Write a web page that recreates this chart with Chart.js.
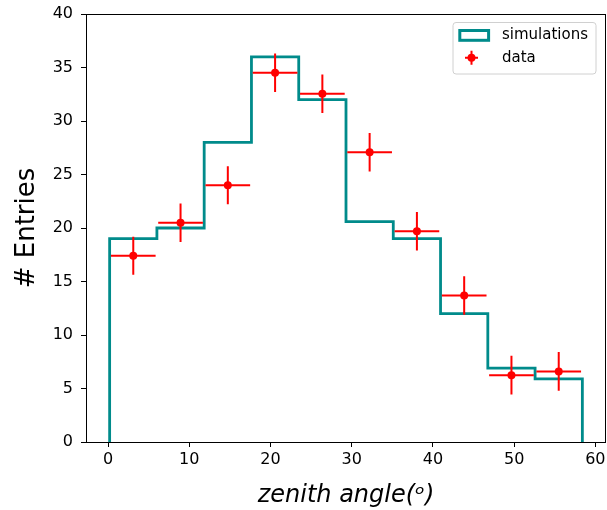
<!DOCTYPE html>
<html><head><meta charset="utf-8">
<script src="https://cdn.jsdelivr.net/npm/chart.js@4.4.0/dist/chart.umd.min.js"></script>
<style>html,body{margin:0;padding:0;background:#fff;} #wrap{width:607px;height:510px;}</style>
</head><body><div id="wrap"><canvas id="c" width="607" height="510"></canvas></div>
<script>
// ---- data ----
const binEdges  = [0.2, 6.02, 11.84, 17.66, 23.48, 29.3, 35.12, 40.94, 46.76, 52.58, 58.4];
const simCounts = [19, 20, 28, 36, 32, 20.6, 19, 12, 6.9, 5.9];
const dataX     = [3.11, 8.93, 14.75, 20.57, 26.39, 32.21, 38.03, 43.85, 49.67, 55.49];
const dataY     = [17.4, 20.5, 24.0, 34.5, 32.55, 27.07, 19.69, 13.7, 6.25, 6.6];
const dataYErr  = [1.78, 1.8, 1.78, 1.8, 1.8, 1.8, 1.8, 1.8, 1.8, 1.8];
const dataXErr  = [2.75, 2.75, 2.75, 2.75, 2.75, 2.75, 2.75, 2.75, 2.75, 2.75];
const xTicks    = [0, 10, 20, 30, 40, 50, 60];
const yTicks    = [0, 5, 10, 15, 20, 25, 30, 35, 40];
const xLabel = 'zenith angle(\u1D52)';
const yLabel = '# Entries';
const legendLabels = ['simulations', 'data'];

const TEAL = '#008b8b', RED = '#ff0000';
const FONT = "'DejaVu Sans', 'Liberation Sans', sans-serif";

const histPts = [{x: binEdges[0], y: 0}];
simCounts.forEach((c, i) => histPts.push({x: binEdges[i], y: c}));
histPts.push({x: binEdges[binEdges.length - 1], y: 0});

const xErrPts = [], yErrPts = [];
dataX.forEach((x, i) => {
  xErrPts.push({x: x - dataXErr[i], y: dataY[i]}, {x: x + dataXErr[i], y: dataY[i]}, {x: x, y: null});
  yErrPts.push({x: x, y: dataY[i] - dataYErr[i]}, {x: x, y: dataY[i] + dataYErr[i]}, {x: x, y: null});
});

const framePlugin = {
  id: 'frame',
  afterDatasetsDraw(chart) {
    const {ctx, chartArea: a} = chart;
    ctx.save();
    ctx.strokeStyle = '#000';
    ctx.lineWidth = 1;
    ctx.strokeRect(Math.round(a.left) + 0.5, Math.round(a.top) + 0.5,
                   Math.round(a.right - a.left) - 1, Math.round(a.bottom - a.top));
    ctx.restore();
  }
};

const legendPlugin = {
  id: 'mplLegend',
  afterDraw(chart) {
    const ctx = chart.ctx;
    ctx.save();
    const bx = 453, by = 22.5, bw = 143, bh = 51.5, r = 3;
    ctx.beginPath();
    ctx.moveTo(bx + r, by);
    ctx.arcTo(bx + bw, by, bx + bw, by + bh, r);
    ctx.arcTo(bx + bw, by + bh, bx, by + bh, r);
    ctx.arcTo(bx, by + bh, bx, by, r);
    ctx.arcTo(bx, by, bx + bw, by, r);
    ctx.closePath();
    ctx.fillStyle = 'rgba(255,255,255,0.8)';
    ctx.fill();
    ctx.strokeStyle = '#d0d0d0';
    ctx.lineWidth = 1;
    ctx.stroke();
    ctx.strokeStyle = TEAL;
    ctx.lineWidth = 3;
    ctx.strokeRect(459.8, 30.5, 28.8, 9.8);
    ctx.strokeStyle = RED;
    ctx.lineWidth = 2;
    ctx.beginPath();
    ctx.moveTo(465, 57.7); ctx.lineTo(478, 57.7);
    ctx.moveTo(471.5, 50.7); ctx.lineTo(471.5, 64.7);
    ctx.stroke();
    ctx.fillStyle = RED;
    ctx.beginPath(); ctx.arc(471.5, 57.7, 4, 0, Math.PI * 2); ctx.fill();
    ctx.fillStyle = '#000';
    ctx.font = '15px ' + FONT;
    ctx.textBaseline = 'middle';
    ctx.textAlign = 'left';
    ctx.fillText(legendLabels[0], 502, 35.5);
    ctx.fillText(legendLabels[1], 502, 58);
    ctx.restore();
  }
};

new Chart(document.getElementById('c'), {
  type: 'line',
  data: {
    datasets: [
      {label: legendLabels[1], data: dataX.map((x, i) => ({x, y: dataY[i]})), showLine: false,
       pointRadius: 4, pointHoverRadius: 4, pointBackgroundColor: RED, pointBorderColor: RED, pointBorderWidth: 0, order: 0},
      {label: 'xerr', data: xErrPts, borderColor: RED, borderWidth: 2, pointRadius: 0, spanGaps: false, fill: false, order: 1},
      {label: 'yerr', data: yErrPts, borderColor: RED, borderWidth: 2, pointRadius: 0, spanGaps: false, fill: false, order: 1},
      {label: legendLabels[0], data: histPts, stepped: 'before', borderColor: TEAL, borderWidth: 2.8,
       pointRadius: 0, fill: false, order: 2}
    ]
  },
  options: {
    responsive: false, animation: false, devicePixelRatio: 1,
    layout: {autoPadding: false, padding: {top: 14, right: 1, bottom: 0, left: 0}},
    plugins: {legend: {display: false}, tooltip: {enabled: false}},
    scales: {
      x: {
        type: 'linear', min: -2.71, max: 61.31,
        afterBuildTicks: s => { s.ticks = xTicks.map(v => ({value: v})); },
        afterFit: s => { s.height = 68; s.paddingLeft = 0; s.paddingRight = 0; },
        grid: {display: true, drawOnChartArea: false, tickLength: 5, color: '#000'},
        border: {display: false},
        ticks: {color: '#000', font: {family: FONT, size: 16}, padding: 3, maxRotation: 0, autoSkip: false},
        title: {display: true, text: xLabel, color: '#000', font: {family: FONT, size: 24, style: 'italic'}, padding: 0}
      },
      y: {
        type: 'linear', min: 0, max: 40,
        afterBuildTicks: s => { s.ticks = yTicks.map(v => ({value: v})); },
        afterFit: s => { s.width = 86; s.paddingTop = 0; s.paddingBottom = 0; },
        grid: {display: true, drawOnChartArea: false, tickLength: 5, color: '#000'},
        border: {display: false},
        ticks: {color: '#000', font: {family: FONT, size: 16}, padding: 8, autoSkip: false},
        title: {display: true, text: yLabel, color: '#000', font: {family: FONT, size: 26}, padding: {top: 12, bottom: 0}}
      }
    }
  },
  plugins: [framePlugin, legendPlugin]
});
</script>
</body></html>
